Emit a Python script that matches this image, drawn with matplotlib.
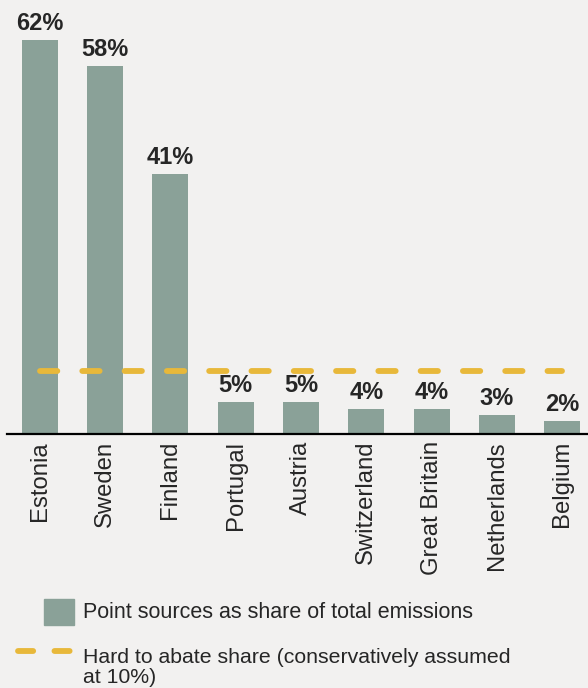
import matplotlib
matplotlib.use("Agg")
import matplotlib.pyplot as plt
from matplotlib.patches import Rectangle
from matplotlib.lines import Line2D

countries = ["Estonia", "Sweden", "Finland", "Portugal", "Austria",
             "Switzerland", "Great Britain", "Netherlands", "Belgium"]
point_share = [62, 58, 41, 5, 5, 4, 4, 3, 2]
hard_to_abate = 10

BG = "#f2f1f0"
BAR = "#8aa198"
GOLD = "#e8b83a"
TXT = "#262626"

plt.rcParams["font.family"] = ["Liberation Sans", "DejaVu Sans"]

W, H = 588, 688
fig = plt.figure(figsize=(W / 100, H / 100), dpi=100, facecolor=BG)
ax = fig.add_axes([7 / W, (H - 434) / H, 588 / W, 434 / H], facecolor=BG)

x = list(range(len(countries)))
ax.bar(x, point_share, width=0.55, color=BAR, zorder=2)
for xi, v in zip(x, point_share):
    ax.annotate(f"{v}%", (xi, v), xytext=(0, 10), textcoords="offset pixels",
                ha="center", va="baseline", fontsize=17, fontweight="bold",
                color=TXT)

LW = 4.2
ax.plot([x[0], x[-1]], [hard_to_abate, hard_to_abate], color=GOLD,
        linewidth=LW, linestyle=(0, (2.97, 4.28)), dash_capstyle="round",
        zorder=3)

ax.set_xlim(-0.5, 8.5)
ax.set_ylim(0, 68.35)
ax.set_xticks(x)
ax.set_xticklabels(countries, rotation=90, fontsize=17.2, color=TXT)
ax.tick_params(axis="x", length=0, pad=5)
ax.tick_params(axis="y", left=False, labelleft=False)
for s in ("top", "right", "left"):
    ax.spines[s].set_visible(False)
ax.spines["bottom"].set_linewidth(1.6)
ax.spines["bottom"].set_color("black")


def fx(px):
    return px / W


def fy(py):
    return (H - py) / H


# legend: bars
fig.add_artist(Rectangle((fx(44), fy(625)), 30 / W, 26 / H,
                         transform=fig.transFigure, color=BAR))
fig.text(fx(83), fy(612), "Point sources as share of total emissions",
         fontsize=15.5, color=TXT, va="center", ha="left")

# legend: dashed line
leg_line = Line2D([fx(18), fx(70)], [fy(651), fy(651)],
                  transform=fig.transFigure, color=GOLD, linewidth=LW,
                  linestyle=(0, (2.6, 3.65)), dash_capstyle="round")
fig.add_artist(leg_line)
fig.text(fx(83), fy(683), "Hard to abate share (conservatively assumed\nat 10%)",
         fontsize=15.3, color=TXT, va="baseline", ha="left",
         linespacing=1.05)

fig.savefig("out.png", dpi=100, facecolor=BG)
